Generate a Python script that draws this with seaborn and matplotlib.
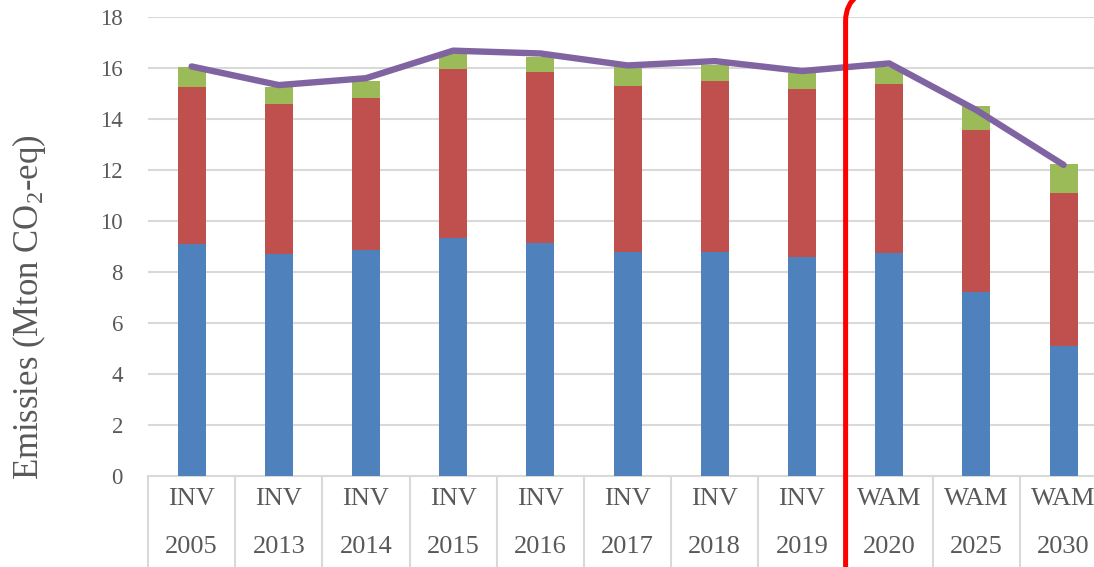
import numpy as np
import matplotlib
matplotlib.use("Agg")
import matplotlib.pyplot as plt
from matplotlib.path import Path
from matplotlib.patches import PathPatch
import seaborn as sns

# ---- data ----
scenarios = ["INV", "INV", "INV", "INV", "INV", "INV", "INV", "INV", "WAM", "WAM", "WAM"]
years = ["2005", "2013", "2014", "2015", "2016", "2017", "2018", "2019", "2020", "2025", "2030"]
blue_vals = [9.10, 8.70, 8.85, 9.35, 9.15, 8.77, 8.78, 8.57, 8.76, 7.23, 5.10]
red_vals = [6.14, 5.88, 5.99, 6.61, 6.68, 6.53, 6.72, 6.59, 6.61, 6.34, 6.01]
green_vals = [0.78, 0.67, 0.66, 0.64, 0.62, 0.75, 0.62, 0.64, 0.68, 0.94, 1.11]
line_vals = [16.06, 15.33, 15.60, 16.68, 16.57, 16.10, 16.27, 15.88, 16.18, 14.35, 12.20]
y_ticks = [0, 2, 4, 6, 8, 10, 12, 14, 16, 18]

BLUE, RED, GREEN, PURPLE = "#4F81BD", "#C0504D", "#9BBB59", "#8064A2"
GRID = "#D9D9D9"
TXT = "#595959"
FONT = "Liberation Serif"

sns.set_theme(style="white")
plt.rcParams["font.family"] = [FONT, "DejaVu Sans"]
plt.rcParams["mathtext.fontset"] = "custom"
plt.rcParams["mathtext.rm"] = FONT
plt.rcParams["mathtext.it"] = FONT

W, H = 1094, 567
fig = plt.figure(figsize=(W / 100, H / 100), dpi=100)
ax = fig.add_axes([148 / W, 91 / H, 1 - 148 / W, (550 - 91) / H])

n = len(years)
pos = np.arange(n)
b = np.array(blue_vals)
r = b + np.array(red_vals)
g = r + np.array(green_vals)

# stacked bars via cumulative overlays
for tot, col in [(g, GREEN), (r, RED), (b, BLUE)]:
    sns.barplot(x=pos, y=tot, color=col, saturation=1, width=0.32,
                edgecolor="none", linewidth=0, ax=ax, zorder=2, native_scale=True)

sns.lineplot(x=pos, y=line_vals, color=PURPLE, linewidth=4.6, ax=ax, sort=False,
             zorder=4, solid_capstyle="round", solid_joinstyle="round")

ax.set_xlim(-0.5, (W - 148) / 87.2 - 0.5)
ax.set_ylim(0, 18)
ax.set_yticks(y_ticks)
ax.set_yticklabels([str(t) for t in y_ticks], fontsize=16.5, color=TXT)
ax.tick_params(axis="y", length=0, pad=18)
ax.set_xticks([])
ax.set_xlabel("")
ax.set_ylabel("")
for t in y_ticks[1:]:
    ax.axhline(t, color=GRID, linewidth=1.5, zorder=0)
for s in ["top", "right", "left"]:
    ax.spines[s].set_visible(False)
ax.spines["bottom"].set_color(GRID)
ax.spines["bottom"].set_linewidth(1.5)
ax.spines["bottom"].set_zorder(1)

# two-level category labels with separators
trans = ax.get_xaxis_transform()
for i in range(n):
    ax.text(i, -23 / 459, scenarios[i], transform=trans, ha="center", va="center",
            fontsize=19, color=TXT, clip_on=False)
    ax.text(i, -71 / 459, years[i], transform=trans, ha="center", va="center",
            fontsize=19, color=TXT, clip_on=False)
for i in range(n + 1):
    ax.plot([i - 0.5, i - 0.5], [0, -0.3], transform=trans, color=GRID,
            linewidth=1.5, clip_on=False, zorder=1)

# red divider line with curved top
verts = [(7.5, -10), (7.5, 17.85), (7.5, 18.5), (7.64, 18.85)]
codes = [Path.MOVETO, Path.LINETO, Path.CURVE3, Path.CURVE3]
ax.add_patch(PathPatch(Path(verts, codes), facecolor="none", edgecolor="#FF0000",
                       linewidth=3.6, clip_on=False, zorder=5))

fig.text(29 / W, 1 - 307 / H, "Emissies (Mton CO$_2$-eq)", rotation=90,
         ha="center", va="center", fontsize=25, color=TXT)

fig.savefig("out.png", dpi=100)
